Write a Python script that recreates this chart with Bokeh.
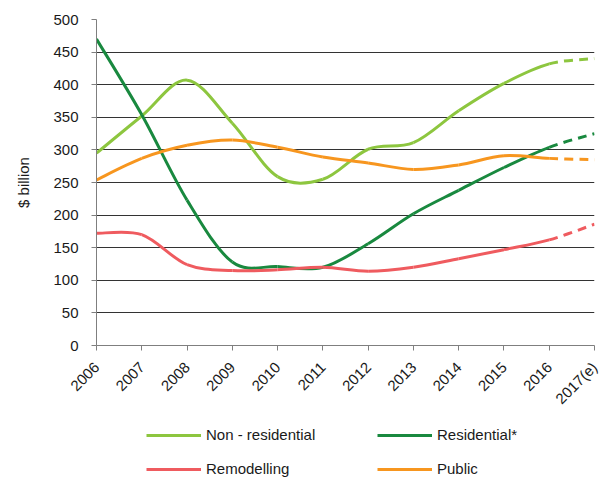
from math import pi

from bokeh.embed import file_html
from bokeh.layouts import column
from bokeh.models import FixedTicker, Legend, LegendItem
from bokeh.plotting import figure
from bokeh.resources import INLINE

# US construction spending by segment, $ billion (2017 is an estimate)
years = [2006, 2007, 2008, 2009, 2010, 2011, 2012, 2013, 2014, 2015, 2016, 2017]
year_labels = ["2006", "2007", "2008", "2009", "2010", "2011", "2012",
               "2013", "2014", "2015", "2016", "2017(e)"]
non_residential = [295, 352, 407, 341, 259, 255, 301, 311, 360, 402, 432, 440]
residential = [470, 354, 223, 128, 121, 120, 156, 202, 238, 273, 304, 325]
remodelling = [172, 170, 124, 115, 116, 120, 114, 120, 133, 147, 162, 186]
public = [254, 287, 307, 315, 304, 289, 280, 270, 277, 291, 287, 285]
y_ticks = [0, 50, 100, 150, 200, 250, 300, 350, 400, 450, 500]

FONT = "Liberation Sans"
TEXT = "#1a1a1a"

series = [
    ("Non - residential", non_residential, "#8dc63f"),
    ("Residential*", residential, "#19893f"),
    ("Remodelling", remodelling, "#ef5b5f"),
    ("Public", public, "#f7961f"),
]


def smooth_pieces(xs, ys):
    """Cubic Bezier pieces of a smoothed line (Catmull-Rom tangents)."""
    n = len(xs)
    pieces = []
    for i in range(n - 1):
        x0, y0, x1, y1 = xs[i], ys[i], xs[i + 1], ys[i + 1]
        xp, yp = (xs[i - 1], ys[i - 1]) if i > 0 else (x0, y0)
        xn, yn = (xs[i + 2], ys[i + 2]) if i + 2 < n else (x1, y1)
        pieces.append(dict(
            x0=x0, y0=y0, x1=x1, y1=y1,
            cx0=x0 + (x1 - xp) / 6, cy0=y0 + (y1 - yp) / 6,
            cx1=x1 - (xn - x0) / 6, cy1=y1 - (yn - y0) / 6,
        ))
    return pieces


p = figure(
    width=603, height=416,
    x_range=(years[0], years[-1]), y_range=(y_ticks[0], y_ticks[-1]),
    output_backend="svg", toolbar_location=None,
    min_border_left=96, min_border_right=9, min_border_top=19,
    min_border_bottom=71,
)
p.outline_line_color = None
p.background_fill_color = "white"

# axes
p.xaxis.ticker = FixedTicker(ticks=years)
p.xaxis.major_label_overrides = {y: lab for y, lab in zip(years, year_labels)}
p.xaxis.major_label_orientation = pi / 4
p.yaxis.ticker = FixedTicker(ticks=y_ticks)
for ax in (p.xaxis, p.yaxis):
    ax.major_label_text_font = FONT
    ax.major_label_text_font_size = "15px"
    ax.major_label_text_color = TEXT
    ax.axis_line_color = "#7f7f7f"
    ax.major_tick_line_color = "#7f7f7f"
    ax.major_tick_out = 5
    ax.major_tick_in = 0
    ax.minor_tick_line_color = None
p.yaxis.major_label_standoff = 13
p.xaxis.major_label_standoff = 14
p.yaxis.axis_label = "$ billion"
p.yaxis.axis_label_text_font = FONT
p.yaxis.axis_label_text_font_size = "15px"
p.yaxis.axis_label_text_font_style = "normal"
p.yaxis.axis_label_text_color = TEXT
p.yaxis.axis_label_standoff = 18

p.xgrid.grid_line_color = None
p.ygrid.grid_line_color = "#333333"
p.ygrid.grid_line_width = 1

# smoothed series: solid through 2016, dashed for the 2017 estimate
for name, vals, color in series:
    pieces = smooth_pieces(years, vals)
    solid, dashed = pieces[:-1], pieces[-1:]
    for group, dash in ((solid, "solid"), (dashed, "9 6")):
        data = {k: [pc[k] for pc in group] for k in group[0]}
        p.bezier(x0="x0", y0="y0", x1="x1", y1="y1",
                 cx0="cx0", cy0="cy0", cx1="cx1", cy1="cy1",
                 source=data, line_color=color, line_width=3,
                 line_dash=dash, line_cap="butt")

# legend strip underneath the chart
key = figure(
    width=603, height=63, x_range=(0, 1), y_range=(0, 1),
    output_backend="svg", toolbar_location=None,
    min_border=0, outline_line_color=None,
)
key.axis.visible = False
key.grid.visible = False
items = []
for name, vals, color in series:
    r = key.line(x=[0], y=[float("nan")], line_color=color, line_width=3)
    items.append(LegendItem(label=name, renderers=[r]))

# two legend rows, columns aligned by a fixed label width
for row, (a, b) in enumerate(((0, 1), (2, 3))):
    leg = Legend(
        items=[items[a], items[b]], orientation="horizontal",
        glyph_width=55, glyph_height=16, label_standoff=5, label_width=161,
        label_height=16, spacing=10, padding=0, margin=0,
        label_text_font=FONT, label_text_font_size="15px",
        label_text_color=TEXT, border_line_color=None,
        background_fill_alpha=0,
        location=(50, 36 - 34 * row),
    )
    key.add_layout(leg, "center")

open("out.html", "w").write(file_html(column(p, key, spacing=0), INLINE))
